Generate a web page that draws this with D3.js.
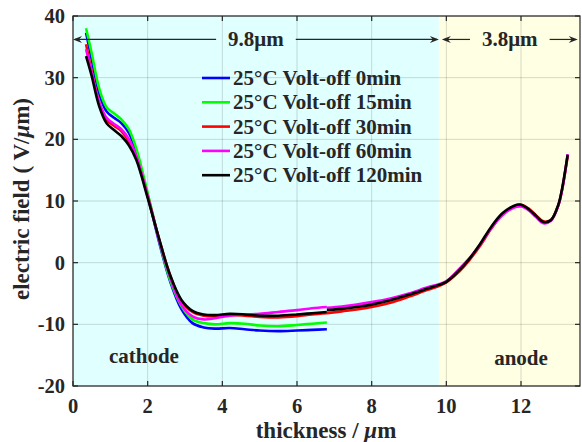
<!DOCTYPE html>
<html lang="en">
<head>
  <meta charset="UTF-8">
  <title>Electric field vs thickness</title>
  <script src="https://d3js.org/d3.v7.min.js"></script>
  <style>
    body { margin: 0; background: #fff; }
    text { font-family: "Liberation Serif", "Times New Roman", serif; font-weight: bold; fill: #262626; }
  </style>
</head>
<body>
<svg width="582" height="442"></svg>
<script>
  const svg = d3.select("svg"),
        width = +svg.attr("width"),
        height = +svg.attr("height");
  const margin = { top: 16, right: 2, bottom: 56, left: 73 };

  // series labels and colours (legend order)
  const labels = ["25°C Volt-off 0min", "25°C Volt-off 15min", "25°C Volt-off 30min",
                  "25°C Volt-off 60min", "25°C Volt-off 120min"];
  const colors = ["#0000ff", "#00ff00", "#ff0000", "#ff00ff", "#000000"];

  // cathode side, x grid shared by all five series
  const xA = [0.35, 0.5, 0.7, 0.9, 1.1, 1.3, 1.5, 1.7, 2.0, 2.3, 2.6, 2.9, 3.2, 3.5, 3.8, 4.2, 4.6, 5.0, 5.5, 6.0, 6.4, 6.8];
  const y0min   = [37.3, 33.0, 27.5, 24.5, 23.5, 22.6, 21.0, 17.8, 11.0, 3.5, -3.0, -7.5, -9.8, -10.5, -10.7, -10.6, -10.8, -11.0, -11.1, -11.0, -10.9, -10.8];
  const y15min  = [38.0, 34.0, 28.3, 25.2, 24.2, 23.2, 21.6, 18.4, 11.3, 3.8, -2.8, -7.0, -9.2, -9.8, -10.0, -9.8, -9.9, -10.2, -10.3, -10.1, -9.9, -9.7];
  const y30min  = [35.4, 31.0, 26.0, 23.2, 22.2, 21.3, 19.6, 17.0, 10.8, 4.0, -2.0, -6.2, -8.0, -8.6, -8.7, -8.5, -8.6, -8.8, -8.9, -8.7, -8.4, -8.2];
  const y60min  = [34.6, 30.8, 26.0, 23.5, 22.5, 21.6, 20.0, 17.2, 10.8, 3.8, -2.3, -6.8, -8.7, -9.2, -9.0, -8.6, -8.4, -8.3, -8.0, -7.7, -7.4, -7.2];
  const y120min = [33.5, 30.3, 25.4, 22.6, 21.5, 20.5, 19.0, 16.6, 10.5, 4.0, -2.0, -6.0, -7.8, -8.4, -8.5, -8.3, -8.4, -8.6, -8.6, -8.4, -8.2, -8.0];

  // anode side (only 30, 60, 120 min are drawn past 6.8 µm)
  const xB = [6.8, 7.2, 7.6, 8.0, 8.5, 9.0, 9.5, 9.8, 10.0, 10.3, 10.6, 10.9, 11.2, 11.5, 11.8, 12.0, 12.2, 12.4, 12.6, 12.8, 13.0, 13.1, 13.25];
  const yB30  = [-8.2, -7.9, -7.6, -7.2, -6.5, -5.5, -4.4, -3.8, -3.2, -1.7, 0.3, 2.7, 5.5, 7.8, 9.1, 9.4, 8.8, 7.7, 6.7, 6.9, 9.3, 11.8, 17.3];
  const yB60  = [-7.3, -7.1, -6.8, -6.4, -5.8, -5.0, -4.0, -3.5, -3.0, -1.3, 0.6, 2.9, 5.6, 7.7, 8.9, 9.1, 8.5, 7.4, 6.4, 6.8, 9.3, 11.8, 17.6];
  const yB120 = [-7.7, -7.5, -7.2, -6.8, -6.1, -5.2, -4.2, -3.6, -3.1, -1.5, 0.5, 3.0, 5.8, 8.0, 9.2, 9.4, 8.7, 7.6, 6.6, 6.9, 9.4, 12.0, 17.5];

  const xTicks = [0, 2, 4, 6, 8, 10, 12];
  const yTicks = [-20, -10, 0, 10, 20, 30, 40];

  const x = d3.scaleLinear().domain([0, 13.58]).range([margin.left, width - margin.right]);
  const y = d3.scaleLinear().domain([-20, 40]).range([height - margin.bottom, margin.top]);

  // regions
  svg.append("rect")
      .attr("x", x(0)).attr("y", y(40))
      .attr("width", x(9.8) - x(0)).attr("height", y(-20) - y(40))
      .attr("fill", "#e0ffff");
  svg.append("rect")
      .attr("x", x(9.8)).attr("y", y(40))
      .attr("width", x(13.58) - x(9.8)).attr("height", y(-20) - y(40))
      .attr("fill", "#ffffe3");

  // grid
  const grid = svg.append("g").attr("stroke", "#000").attr("stroke-opacity", 0.15);
  grid.selectAll(".gx").data(xTicks).enter().append("line")
      .attr("x1", d => x(d)).attr("x2", d => x(d))
      .attr("y1", y(-20)).attr("y2", y(40));
  grid.selectAll(".gy").data(yTicks).enter().append("line")
      .attr("y1", d => y(d)).attr("y2", d => y(d))
      .attr("x1", x(0)).attr("x2", x(13.58));

  // curves
  const line = d3.line().x(d => x(d[0])).y(d => y(d[1])).curve(d3.curveCatmullRom.alpha(0.5));
  const partA = [y0min, y15min, y30min, y60min, y120min];
  const partB = [null, null, yB30, yB60, yB120];
  const curves = svg.append("g").attr("fill", "none").attr("stroke-width", 2.6)
      .attr("stroke-linejoin", "round");
  partA.forEach((ys, i) => {
    curves.append("path")
        .attr("d", line(xA.map((v, j) => [v, ys[j]])))
        .attr("stroke", colors[i]);
  });
  partB.forEach((ys, i) => {
    if (!ys) return;
    curves.append("path")
        .attr("d", line(xB.map((v, j) => [v, ys[j]])))
        .attr("stroke", colors[i]);
  });

  // axes box with inward ticks
  const box = svg.append("g").attr("stroke", "#262626").attr("stroke-width", 1.2);
  box.append("rect")
      .attr("x", x(0)).attr("y", y(40))
      .attr("width", x(13.58) - x(0)).attr("height", y(-20) - y(40))
      .attr("fill", "none");
  xTicks.forEach(t => {
    box.append("line").attr("x1", x(t)).attr("x2", x(t)).attr("y1", y(-20)).attr("y2", y(-20) - 5);
    box.append("line").attr("x1", x(t)).attr("x2", x(t)).attr("y1", y(40)).attr("y2", y(40) + 5);
  });
  yTicks.forEach(t => {
    box.append("line").attr("y1", y(t)).attr("y2", y(t)).attr("x1", x(0)).attr("x2", x(0) + 5);
    box.append("line").attr("y1", y(t)).attr("y2", y(t)).attr("x1", x(13.58)).attr("x2", x(13.58) - 5);
  });

  // tick labels
  svg.append("g").selectAll("text").data(xTicks).enter().append("text")
      .attr("x", d => x(d)).attr("y", y(-20) + 27)
      .attr("text-anchor", "middle").attr("font-size", 20.5)
      .text(d => d);
  svg.append("g").selectAll("text").data(yTicks).enter().append("text")
      .attr("x", x(0) - 8).attr("y", d => y(d) + 7)
      .attr("text-anchor", "end").attr("font-size", 20.5)
      .text(d => d);

  // axis titles
  const xt = svg.append("text")
      .attr("x", 326).attr("y", 438)
      .attr("text-anchor", "middle").attr("font-size", 23);
  xt.append("tspan").text("thickness / ");
  xt.append("tspan").attr("font-style", "italic").text("μ");
  xt.append("tspan").text("m");

  const yt = svg.append("text")
      .attr("transform", `translate(29,${(y(40) + y(-20)) / 2 - 2}) rotate(-90)`)
      .attr("text-anchor", "middle").attr("font-size", 23);
  yt.append("tspan").text("electric field ( V/");
  yt.append("tspan").attr("font-style", "italic").text("μ");
  yt.append("tspan").text("m)");

  // thickness arrows
  const arrowY = y(36.2);
  const arrows = [
    { from: 0, to: 9.8, label: "9.8μm" },
    { from: 9.88, to: 13.52, label: "3.8μm" }
  ];
  const ag = svg.append("g");
  arrows.forEach(a => {
    const x1 = x(a.from), x2 = x(a.to), xm = (x1 + x2) / 2;
    const t = ag.append("text")
        .attr("x", xm).attr("y", arrowY + 7)
        .attr("text-anchor", "middle").attr("font-size", 21)
        .text(a.label);
    const w = t.node().getComputedTextLength() / 2 + 12;
    ag.append("line").attr("x1", x1 + 2).attr("x2", xm - w).attr("y1", arrowY).attr("y2", arrowY)
        .attr("stroke", "#262626").attr("stroke-width", 1.2);
    ag.append("line").attr("x1", xm + w).attr("x2", x2 - 2).attr("y1", arrowY).attr("y2", arrowY)
        .attr("stroke", "#262626").attr("stroke-width", 1.2);
    ag.append("path")
        .attr("d", `M${x1},${arrowY}L${x1 + 9},${arrowY - 3.5}L${x1 + 6},${arrowY}L${x1 + 9},${arrowY + 3.5}Z`)
        .attr("fill", "#262626");
    ag.append("path")
        .attr("d", `M${x2},${arrowY}L${x2 - 9},${arrowY - 3.5}L${x2 - 6},${arrowY}L${x2 - 9},${arrowY + 3.5}Z`)
        .attr("fill", "#262626");
  });

  // region labels
  svg.append("text").attr("x", x(1.9)).attr("y", y(-16.3))
      .attr("text-anchor", "middle").attr("font-size", 21).text("cathode");
  svg.append("text").attr("x", x(12.0)).attr("y", y(-16.6))
      .attr("text-anchor", "middle").attr("font-size", 21).text("anode");

  // legend
  const legend = svg.append("g").attr("transform", "translate(202,78)");
  labels.forEach((l, i) => {
    const row = legend.append("g").attr("transform", `translate(0,${i * 24.3})`);
    row.append("line").attr("x1", 0).attr("x2", 28).attr("y1", 0).attr("y2", 0)
        .attr("stroke", colors[i]).attr("stroke-width", 2.6);
    row.append("text").attr("x", 31).attr("y", 7).attr("font-size", 21).text(l);
  });
</script>
</body>
</html>
